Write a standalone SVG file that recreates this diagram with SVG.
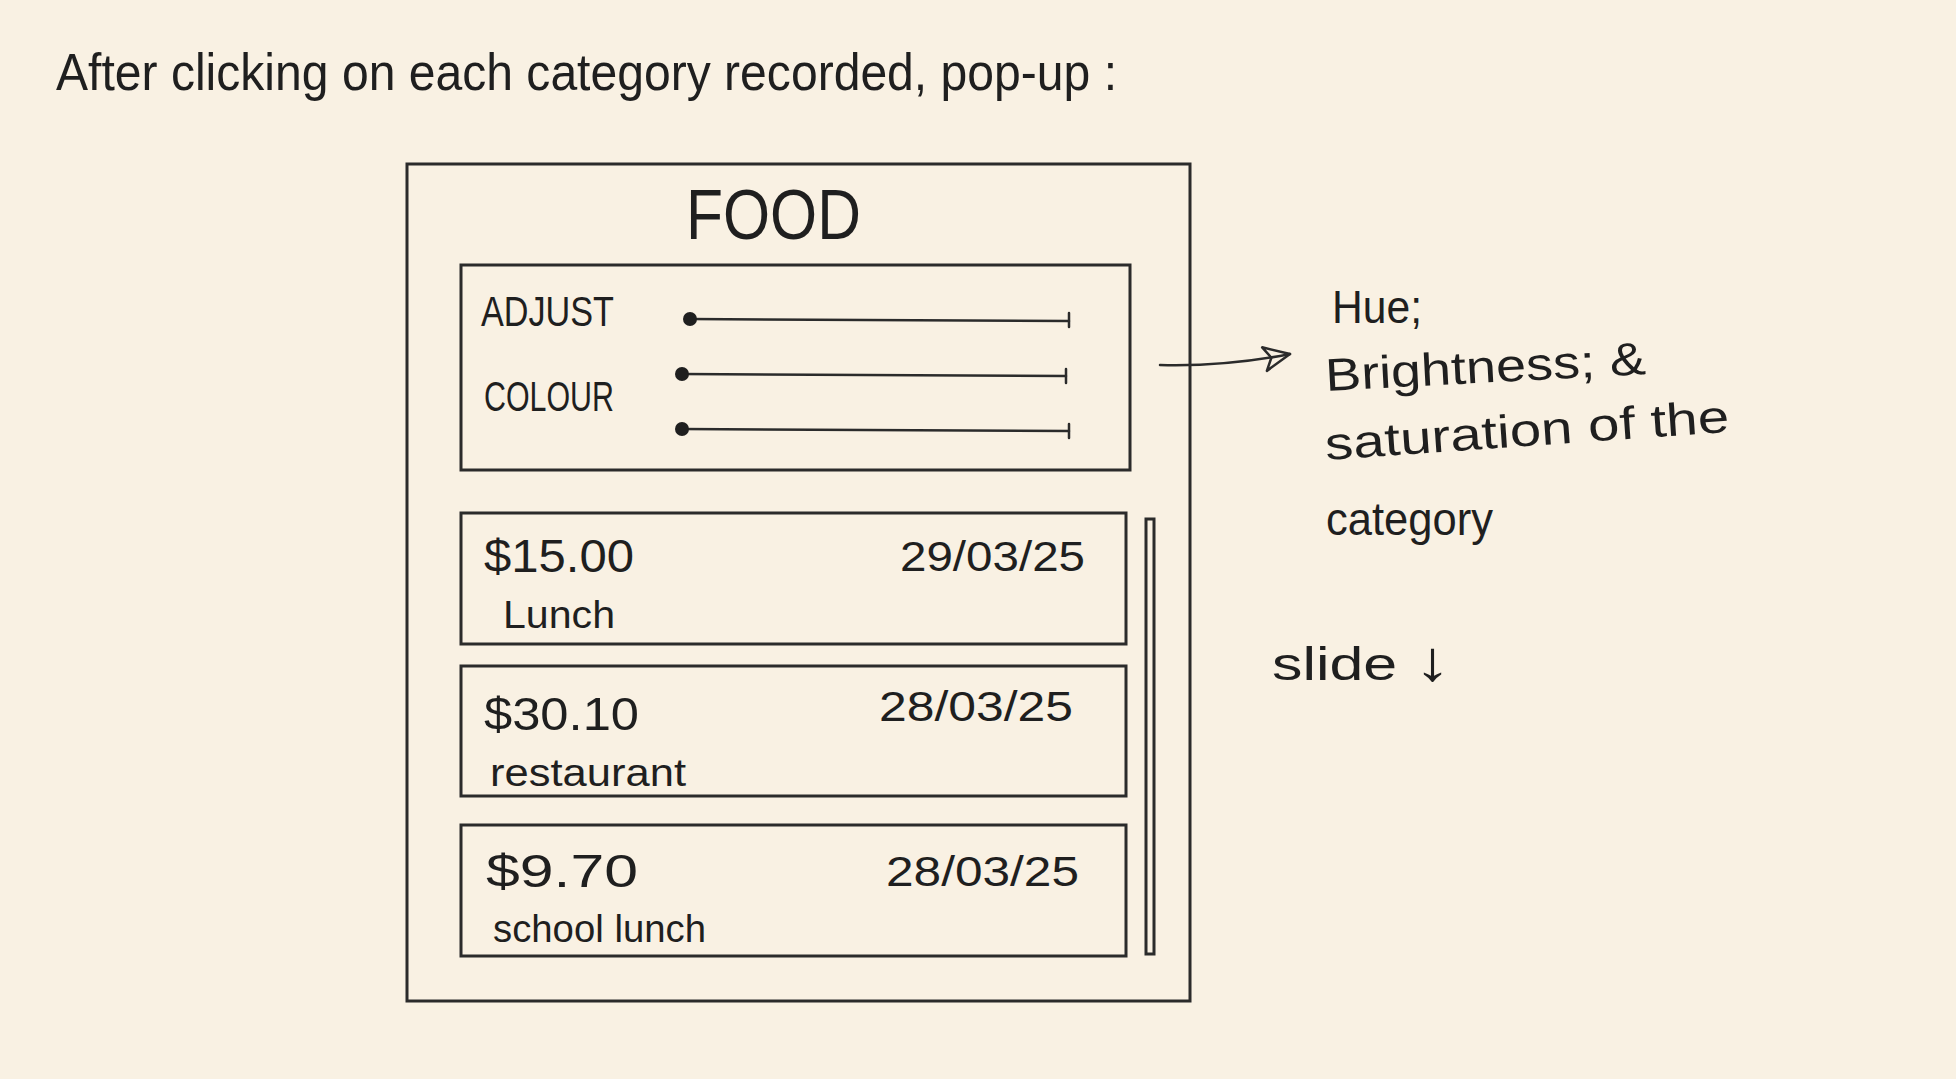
<svg xmlns="http://www.w3.org/2000/svg" width="1956" height="1079" viewBox="0 0 1956 1079">
<style>
.bg{fill:#f9f1e3}
.box{fill:none;stroke:#2b2b2b;stroke-width:3}
.line{fill:none;stroke:#2b2b2b;stroke-width:2.5;stroke-linecap:round}
.dot{fill:#1f1f1f}
.t{font-family:"Liberation Sans","DejaVu Sans",sans-serif;fill:#1f1f1f}
.hand{font-size:46px}
.small{font-size:42px}
.label{font-size:38px}
</style>
<defs>
<marker id="openArrow" viewBox="0 0 30 30" refX="28" refY="15" markerWidth="30" markerHeight="30" markerUnits="userSpaceOnUse" orient="auto">
<path d="M2,3 L28,15 L2,27 L9,15 Z" fill="none" stroke="#2b2b2b" stroke-width="2.5" stroke-linejoin="round"/>
</marker>
</defs>
<rect class="bg" x="0" y="0" width="1956" height="1079"/>

<g id="title">
<text class="t" x="56" y="90" font-size="52" textLength="1061" lengthAdjust="spacingAndGlyphs">After clicking on each category recorded, pop-up :</text>
</g>

<g id="popup">
<rect class="box" x="407" y="164" width="783" height="837"/>
<text class="t" x="686" y="239" font-size="70" textLength="175" lengthAdjust="spacingAndGlyphs">FOOD</text>
</g>

<g id="adjust-colour">
<rect class="box" x="461" y="265" width="669" height="205"/>
<text class="t small" x="481" y="326" textLength="133" lengthAdjust="spacingAndGlyphs">ADJUST</text>
<text class="t small" x="484" y="411" textLength="130" lengthAdjust="spacingAndGlyphs">COLOUR</text>
<line class="line" x1="690" y1="319" x2="1069" y2="321"/>
<line class="line" x1="1069" y1="313" x2="1069" y2="327"/>
<circle class="dot" cx="690" cy="319" r="7"/>
<line class="line" x1="682" y1="374" x2="1066" y2="376"/>
<line class="line" x1="1066" y1="369" x2="1066" y2="383"/>
<circle class="dot" cx="682" cy="374" r="7"/>
<line class="line" x1="682" y1="429" x2="1069" y2="431"/>
<line class="line" x1="1069" y1="424" x2="1069" y2="438"/>
<circle class="dot" cx="682" cy="429" r="7"/>
</g>

<g id="card-1">
<rect class="box" x="461" y="513" width="665" height="131"/>
<text class="t hand" x="484" y="572" textLength="150" lengthAdjust="spacingAndGlyphs">$15.00</text>
<text class="t small" x="900" y="571" textLength="185" lengthAdjust="spacingAndGlyphs">29/03/25</text>
<text class="t label" x="503" y="628" textLength="112" lengthAdjust="spacingAndGlyphs">Lunch</text>
</g>

<g id="card-2">
<rect class="box" x="461" y="666" width="665" height="130"/>
<text class="t hand" x="484" y="730" textLength="155" lengthAdjust="spacingAndGlyphs">$30.10</text>
<text class="t small" x="879" y="721" textLength="194" lengthAdjust="spacingAndGlyphs">28/03/25</text>
<text class="t label" x="490" y="786" textLength="196" lengthAdjust="spacingAndGlyphs">restaurant</text>
</g>

<g id="card-3">
<rect class="box" x="461" y="825" width="665" height="131"/>
<text class="t hand" x="486" y="887" textLength="152" lengthAdjust="spacingAndGlyphs">$9.70</text>
<text class="t small" x="886" y="886" textLength="193" lengthAdjust="spacingAndGlyphs">28/03/25</text>
<text class="t label" x="493" y="942" textLength="213" lengthAdjust="spacingAndGlyphs">school lunch</text>
</g>

<g id="scrollbar">
<rect class="box" x="1146" y="519" width="8" height="435" stroke-width="2.5"/>
</g>

<g id="note">
<text class="t hand" x="1332" y="323" textLength="90" lengthAdjust="spacingAndGlyphs">Hue;</text>
<text class="t hand" x="1326" y="391" textLength="321" lengthAdjust="spacingAndGlyphs" transform="rotate(-3 1326 391)">Brightness; &amp;</text>
<text class="t hand" x="1326" y="460" textLength="405" lengthAdjust="spacingAndGlyphs" transform="rotate(-4 1326 460)">saturation of the</text>
<text class="t hand" x="1326" y="535" textLength="167" lengthAdjust="spacingAndGlyphs">category</text>
</g>

<g id="slide-note">
<text class="t hand" x="1272" y="680" textLength="179" lengthAdjust="spacingAndGlyphs">slide <tspan font-size="56">↓</tspan></text>
</g>

<g id="connectors">
<path class="line" d="M1160,365 C1200,366 1240,364 1290,354" marker-end="url(#openArrow)"/>
</g>
</svg>
